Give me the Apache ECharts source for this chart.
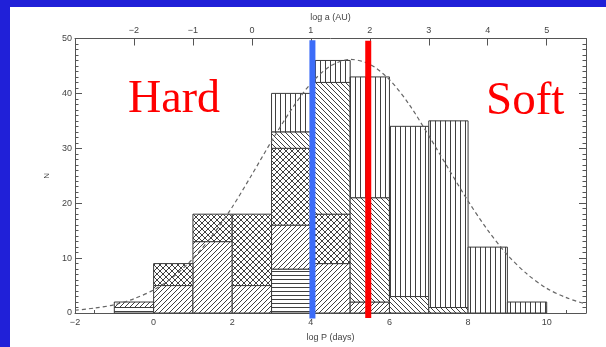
<!DOCTYPE html>
<html>
<head>
<meta charset="utf-8">
<script src="https://cdn.jsdelivr.net/npm/echarts@6/dist/echarts.min.js"></script>
<style>
html,body{margin:0;padding:0;background:#2020d8;width:606px;height:347px;overflow:hidden;}
#chart{position:absolute;left:10px;top:7px;width:596px;height:340px;background:#ffffff;}
</style>
</head>
<body>
<div id="chart"></div>
<script>
// ---- data ----
const binStarts = [-1, 0, 1, 2, 3, 4, 5, 6, 7, 8, 9];
const binWidth = 1;
const horizontal = [1, 0, 0, 0, 8, 0, 0, 0, 0, 0, 0];
const slash      = [1, 5, 13, 5, 8, 9, 2, 0, 0, 0, 0];
const cross      = [0, 4, 5, 13, 14, 9, 0, 0, 0, 0, 0];
const backslash  = [0, 0, 0, 0, 3, 24, 19, 3, 1, 0, 0];
const vertical   = [0, 0, 0, 0, 7, 4, 22, 31, 34, 12, 2];

const curveLogP = [-2,-1.5,-1,-0.5,0,0.5,1,1.5,2,2.5,3,3.5,4,4.5,5,5.5,6,6.5,7,7.5,8,8.5,9,9.5,10,10.5,11];
const curveN    = [0.5,0.9,1.5,2.6,4.2,6.6,9.9,14.2,19.3,25.2,31.3,37.0,41.8,45.0,46.2,45.3,42.5,38.0,32.3,26.3,20.4,15.1,10.6,7.1,4.5,2.8,1.6];

const hardLimit = [[4.04, -1.0], [4.04, 49.7]];
const softLimit = [[5.46, -0.9], [5.46, 49.6]];

const xTicksBottom = {min: -2, max: 11, interval: 2};
const xTicksTop = {min: -3, max: 17/3, interval: 1};
const yTicks = {min: 0, max: 50, interval: 10};

// ---- hatch patterns ----
function makePattern(kind){
  const s = kind === 'h' ? 4 : (kind === 'x' ? 6 : 5);
  const c = document.createElement('canvas');
  c.width = s; c.height = s;
  const g = c.getContext('2d');
  g.fillStyle = '#ffffff'; g.fillRect(0,0,s,s);
  g.strokeStyle = '#404040'; g.lineWidth = 1;
  g.beginPath();
  if (kind === 'h'){ g.moveTo(0,0.5); g.lineTo(s,0.5); }
  if (kind === 'v'){ g.moveTo(0.5,0); g.lineTo(0.5,s); }
  if (kind === '/' || kind === 'x'){
    g.moveTo(-1,s+1); g.lineTo(s+1,-1);
    g.moveTo(-1,1); g.lineTo(1,-1);
    g.moveTo(s-1,s+1); g.lineTo(s+1,s-1);
  }
  if (kind === '\\' || kind === 'x'){
    g.moveTo(-1,-1); g.lineTo(s+1,s+1);
    g.moveTo(s-1,-1); g.lineTo(s+1,1);
    g.moveTo(-1,s-1); g.lineTo(1,s+1);
  }
  g.stroke();
  return {image: c, repeat: 'repeat'};
}

const layers = [
  {name:'horizontal', values: horizontal, kind:'h'},
  {name:'slash', values: slash, kind:'/'},
  {name:'cross', values: cross, kind:'x'},
  {name:'backslash', values: backslash, kind:'\\'},
  {name:'vertical', values: vertical, kind:'v'}
];

const base = binStarts.map(() => 0);
const barSeries = layers.map(layer => {
  const pat = makePattern(layer.kind);
  const data = [];
  binStarts.forEach((x0, i) => {
    const v = layer.values[i];
    if (v > 0){
      data.push([x0, x0 + binWidth, base[i], base[i] + v]);
      base[i] += v;
    }
  });
  return {
    type: 'custom',
    name: layer.name,
    xAxisIndex: 0, yAxisIndex: 0,
    encode: {x: [0,1], y: [2,3]},
    data: data,
    z: 2,
    renderItem: function(params, api){
      const p0 = api.coord([api.value(0), api.value(3)]);
      const p1 = api.coord([api.value(1), api.value(2)]);
      return {
        type: 'rect',
        shape: {x: p0[0], y: p0[1], width: p1[0]-p0[0], height: p1[1]-p0[1]},
        style: {fill: pat, stroke: '#3c3c3c', lineWidth: 1}
      };
    }
  };
});

const minus = v => String(v).replace('-', '\u2212');
const labelFont = {fontFamily: 'Liberation Sans, Arial, sans-serif', fontSize: 9, color: '#444'};
const axisLineStyle = {onZero: false, lineStyle: {color: '#555', width: 1}};

const chart = echarts.init(document.getElementById('chart'), null, {renderer: 'canvas'});
chart.setOption({
  animation: false,
  backgroundColor: '#ffffff',
  grid: {left: 65, top: 31.5, width: 511, height: 281.5},
  xAxis: [
    {
      type: 'value', position: 'bottom',
      min: xTicksBottom.min, max: xTicksBottom.max, interval: xTicksBottom.interval,
      name: 'log P (days)', nameLocation: 'middle', nameGap: 20,
      nameTextStyle: {fontFamily: 'Liberation Sans, Arial, sans-serif', fontSize: 9, color: '#444'},
      axisLine: axisLineStyle,
      axisTick: {inside: true, length: 7, lineStyle: {color: '#555'}},
      minorTick: {show: true, splitNumber: 4, length: 3, lineStyle: {color: '#555'}},
      axisLabel: Object.assign({margin: 5, showMaxLabel: false, formatter: minus}, labelFont),
      splitLine: {show: false}
    },
    {
      type: 'value', position: 'top',
      min: xTicksTop.min, max: xTicksTop.max, interval: xTicksTop.interval,
      name: 'log a (AU)', nameLocation: 'middle', nameGap: 16,
      nameTextStyle: {fontFamily: 'Liberation Sans, Arial, sans-serif', fontSize: 9, color: '#444'},
      axisLine: axisLineStyle,
      axisTick: {inside: true, length: 7, lineStyle: {color: '#555'}},
      axisLabel: Object.assign({margin: 3, showMinLabel: false, showMaxLabel: false, formatter: minus}, labelFont),
      splitLine: {show: false}
    }
  ],
  yAxis: [
    {
      type: 'value', position: 'left',
      min: yTicks.min, max: yTicks.max, interval: yTicks.interval,
      name: 'N', nameLocation: 'middle', nameGap: 24, nameRotate: 90,
      nameTextStyle: {fontFamily: 'Liberation Sans, Arial, sans-serif', fontSize: 8, color: '#444'},
      axisLine: axisLineStyle,
      axisTick: {inside: true, length: 7, lineStyle: {color: '#555'}},
      minorTick: {show: true, splitNumber: 10, length: 3.5, lineStyle: {color: '#555'}},
      axisLabel: Object.assign({margin: 3}, labelFont),
      splitLine: {show: false}
    },
    {
      type: 'value', position: 'right',
      min: yTicks.min, max: yTicks.max, interval: yTicks.interval,
      axisLine: axisLineStyle,
      axisTick: {inside: true, length: 7, lineStyle: {color: '#555'}},
      minorTick: {show: true, splitNumber: 10, length: 3.5, lineStyle: {color: '#555'}},
      axisLabel: {show: false},
      splitLine: {show: false}
    }
  ],
  series: barSeries.concat([
    {
      type: 'line', name: 'fit',
      data: curveLogP.map((x, i) => [x, curveN[i]]),
      smooth: 0.3, symbol: 'none', z: 5,
      lineStyle: {color: '#666', width: 1.2, type: [4, 3]}
    },
    {
      type: 'line', name: 'hard', data: hardLimit, symbol: 'none', clip: false, z: 6,
      lineStyle: {color: '#3b6cf8', width: 6, cap: 'butt'}
    },
    {
      type: 'line', name: 'soft', data: softLimit, symbol: 'none', clip: false, z: 6,
      lineStyle: {color: '#ff0000', width: 6, cap: 'butt'}
    }
  ]),
  graphic: [
    {type: 'text', left: 118, top: 70, z: 10,
     style: {text: 'Hard', fill: '#ff0000', font: '46px "Liberation Serif", "Times New Roman", serif'}},
    {type: 'text', left: 476, top: 71, z: 10,
     style: {text: 'Soft', fill: '#ff0000', font: '47px "Liberation Serif", "Times New Roman", serif'}}
  ]
});
</script>
</body>
</html>
